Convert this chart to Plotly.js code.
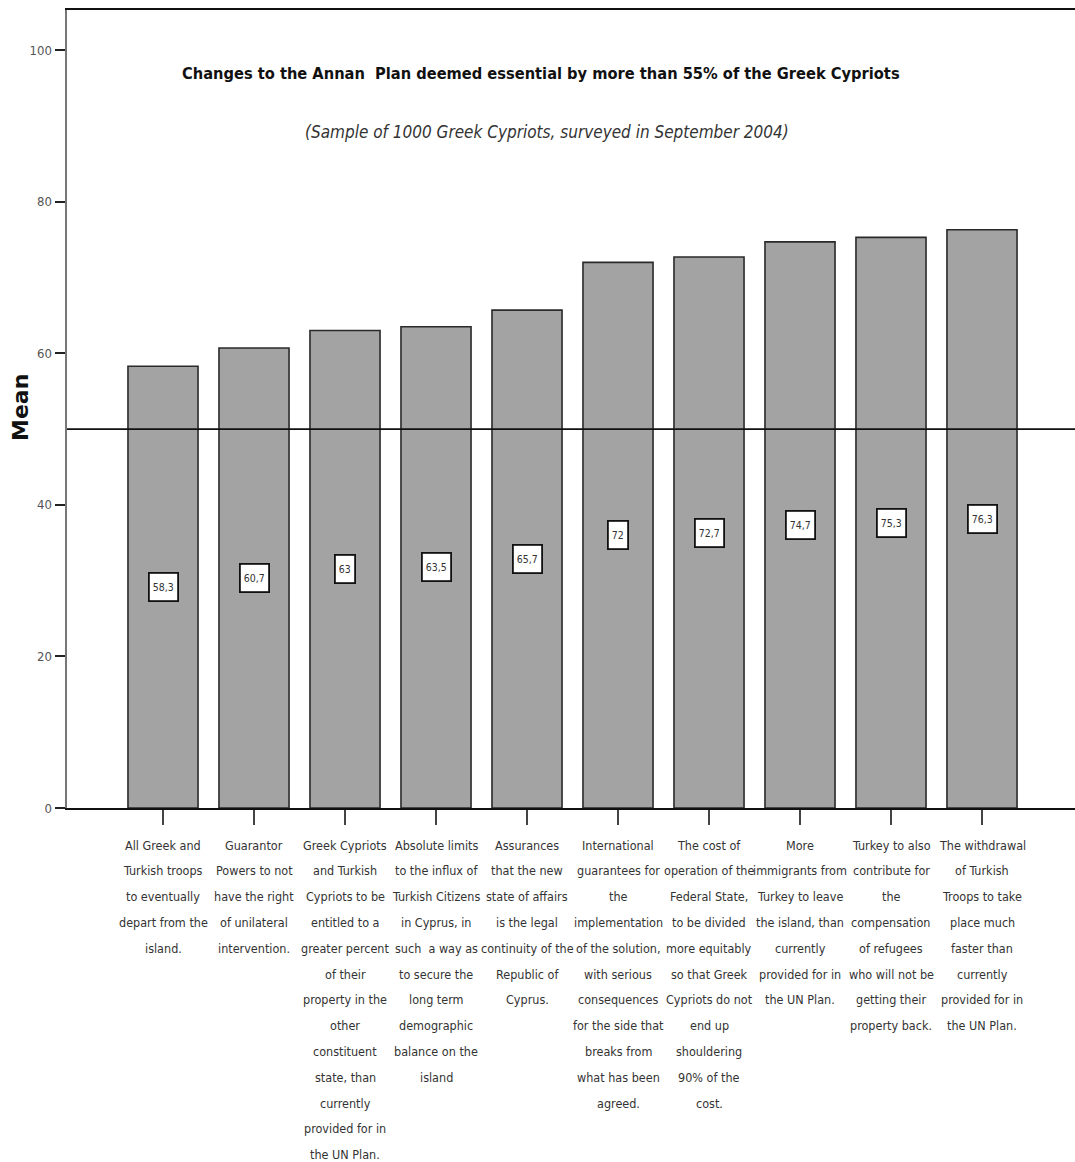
<!DOCTYPE html>
<html>
<head>
<meta charset="utf-8">
<script src="https://cdn.plot.ly/plotly-3.0.1.min.js"></script>
<style>html,body{margin:0;padding:0;background:#fff;}#chart{width:1075px;height:1162px;}</style>
</head>
<body>
<div id="chart"></div>
<script>
// ---- data ----
var categoryLines = [
  ["All Greek and","Turkish troops","to eventually","depart from the","island."],
  ["Guarantor","Powers to not","have the right","of unilateral","intervention."],
  ["Greek Cypriots","and Turkish","Cypriots to be","entitled to a","greater percent","of their","property in the","other","constituent","state, than","currently","provided for in","the UN Plan."],
  ["Absolute limits","to the influx of","Turkish Citizens","in Cyprus, in","such  a way as","to secure the","long term","demographic","balance on the","island"],
  ["Assurances","that the new","state of affairs","is the legal","continuity of the","Republic of","Cyprus."],
  ["International","guarantees for","the","implementation","of the solution,","with serious","consequences","for the side that","breaks from","what has been","agreed."],
  ["The cost of","operation of the","Federal State,","to be divided","more equitably","so that Greek","Cypriots do not","end up","shouldering","90% of the","cost."],
  ["More","immigrants from","Turkey to leave","the island, than","currently","provided for in","the UN Plan."],
  ["Turkey to also","contribute for","the","compensation","of refugees","who will not be","getting their","property back."],
  ["The withdrawal","of Turkish","Troops to take","place much","faster than","currently","provided for in","the UN Plan."]
];
var meanValues = [58.3, 60.7, 63, 63.5, 65.7, 72, 72.7, 74.7, 75.3, 76.3];
var yTickValues = [0, 20, 40, 60, 80, 100];
var thresholdValue = 50;
var titleText = "Changes to the Annan  Plan deemed essential by more than 55% of the Greek Cypriots";
var subtitleText = "(Sample of 1000 Greek Cypriots, surveyed in September 2004)";
var yTitleText = "Mean";

// ---- build ----
var NARROW = "DejaVu Sans Condensed, Liberation Sans Narrow, sans-serif";
var xIdx = meanValues.map(function(_, i){ return i; });

var trace = {
  type: 'bar',
  x: xIdx,
  y: meanValues,
  width: 0.77,
  marker: {color: '#a3a3a3', line: {color: '#2a2a2a', width: 1.6}},
  hoverinfo: 'skip'
};

var annotations = [];
// value boxes at mid-height
meanValues.forEach(function(v, i){
  annotations.push({
    x: i, y: v / 2, xref: 'x', yref: 'y',
    text: String(v).replace('.', ','),
    showarrow: false, height: 20,
    bgcolor: '#ffffff', bordercolor: '#111111', borderwidth: 1.8, borderpad: 3,
    font: {family: NARROW, size: 10.5, color: '#333'}
  });
});
// category labels, line by line
categoryLines.forEach(function(lines, i){
  lines.forEach(function(line, k){
    annotations.push({
      x: i, y: 0, xref: 'x', yref: 'paper',
      yanchor: 'middle', xanchor: 'center',
      yshift: -(37 + 25.8 * k),
      text: line, showarrow: false,
      font: {family: NARROW, size: 12.5, color: '#333'}
    });
  });
});
// titles
annotations.push({
  x: 0.470, y: 1, xref: 'paper', yref: 'paper', yanchor: 'middle', yshift: -63,
  text: '<b>' + titleText + '</b>', showarrow: false,
  font: {family: NARROW, size: 16.3, color: '#111'}
});
annotations.push({
  x: 0.476, y: 1, xref: 'paper', yref: 'paper', yanchor: 'middle', yshift: -122,
  text: '<i>' + subtitleText + '</i>', showarrow: false,
  font: {family: NARROW, size: 17, color: '#333'}
});
// y-axis title
annotations.push({
  x: 0, y: 0.5013, xref: 'paper', yref: 'paper', xanchor: 'center', yanchor: 'middle',
  xshift: -46, textangle: -90,
  text: '<b>' + yTitleText + '</b>', showarrow: false,
  font: {family: 'DejaVu Sans, sans-serif', size: 22, color: '#111'}
});

var layout = {
  width: 1075, height: 1162,
  margin: {l: 67, r: 0, t: 10, b: 354},
  paper_bgcolor: '#fff', plot_bgcolor: '#fff',
  showlegend: false,
  font: {family: NARROW},
  xaxis: {
    range: [-1.055, 10.022],
    tickvals: xIdx,
    showticklabels: false,
    ticks: 'outside', ticklen: 15, tickwidth: 1.5, tickcolor: '#444',
    showline: true, linecolor: '#111', linewidth: 2, mirror: true,
    showgrid: false, zeroline: false, fixedrange: true
  },
  yaxis: {
    range: [0, 105.3],
    tickvals: yTickValues,
    ticks: 'outside', ticklen: 10, tickwidth: 2, tickcolor: '#222',
    tickfont: {family: NARROW, size: 13, color: '#555'},
    showline: true, linecolor: '#777', linewidth: 2.5,
    showgrid: false, zeroline: false, fixedrange: true
  },
  shapes: [{
    type: 'line', xref: 'paper', yref: 'y', x0: 0, x1: 1, y0: thresholdValue, y1: thresholdValue,
    line: {color: '#111', width: 1.8}
  }],
  annotations: annotations
};

Plotly.newPlot('chart', [trace], layout, {displayModeBar: false, staticPlot: true});
</script>
</body>
</html>
